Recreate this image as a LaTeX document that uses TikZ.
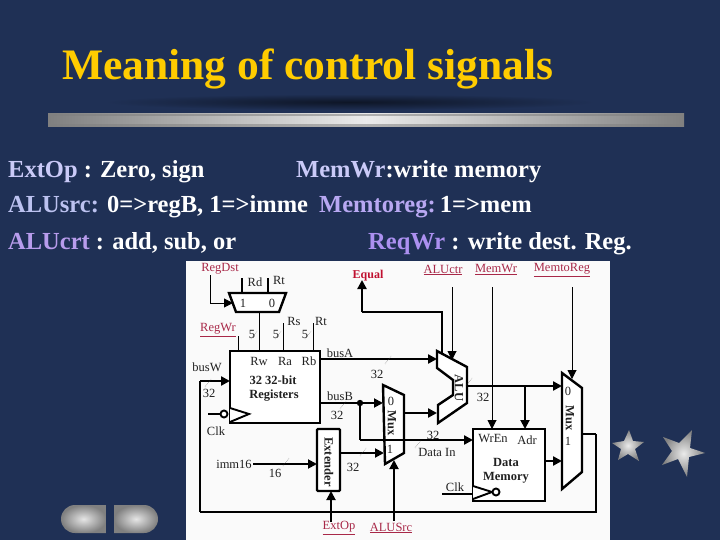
\documentclass[tikz,border=0pt]{standalone}
\usepackage{fontspec}
\setmainfont{Liberation Serif}
\usetikzlibrary{arrows.meta}
\definecolor{slidebg}{HTML}{1F3055}
\definecolor{ttl}{HTML}{FFCC00}
\definecolor{lavA}{HTML}{CACAF8}
\definecolor{lavB}{HTML}{BCC2F0}
\definecolor{lavC}{HTML}{B89CEC}
\definecolor{lavD}{HTML}{B8A8F2}
\definecolor{lavE}{HTML}{AC90F0}
\definecolor{ctrl}{HTML}{A82848}
\definecolor{eqred}{HTML}{C01030}
\definecolor{ink}{HTML}{202020}
\newcommand{\fs}[2]{\fontsize{#1}{#2}\selectfont}
\newcommand{\tk}[2]{\draw[tickmark] (#1-3,#2+4) -- (#1+3,#2-4);}
\tikzset{
 x=1pt,y=-1pt,
 bodytxt/.style={anchor=base west,inner sep=0pt,font=\fs{24.5}{26}\bfseries,text=white},
 lab/.style={inner sep=0pt,font=\fs{12.5}{13},text=ink},
 blab/.style={inner sep=0pt,font=\fs{12.5}{13}\bfseries,text=ink},
 clab/.style={inner sep=0pt,font=\fs{12.5}{13},text=ctrl},
 thinw/.style={line width=1.0pt,draw=black},
 medw/.style={line width=1.9pt,draw=black},
 thickw/.style={line width=2.8pt,draw=black},
 arr/.style={-{Triangle[length=9pt,width=9pt]}},
 muxshape/.style={line width=2.4pt,draw=black,fill=white,line join=miter},
 boxshape/.style={rectangle,draw=black,line width=2.2pt,fill=white,inner sep=0pt},
 tickmark/.style={line width=0.4pt,draw=black!70,densely dotted},
 metal/.style={inner color=white!90!black,outer color=black!50!white},
}
\begin{document}
\begin{tikzpicture}
\useasboundingbox (0,0) rectangle (720,540);
\fill[slidebg] (0,0) rectangle (720,540);
% title
\node[anchor=base west,inner sep=0pt,font=\fs{43.5}{46}\bfseries,text=ttl] (title) at (62,80) {Meaning of control signals};
% shadow and rule
\shade[inner color=black!55!slidebg,outer color=slidebg,draw=none] (350,102) ellipse [x radius=245,y radius=8];
\shade[left color=black!50!white,right color=black!50!white,middle color=white!92!black,draw=none] (48,114) rectangle (684,127);
\fill[black!50!white,opacity=0.55] (48,114) rectangle (684,116.5);
\fill[black!50!white,opacity=0.55] (48,124.5) rectangle (684,127);
% text lines
\node[bodytxt] (l1a) at (8,178) {\textcolor{lavA}{ExtOp} : Zero, sign};
\node[bodytxt] (l1b) at (296,178) {\textcolor{lavA}{MemWr}:write memory};
\node[bodytxt] (l2a) at (8,213) {\textcolor{lavB}{ALUsrc:} 0=>regB, 1=>imme};
\node[bodytxt] (l2b) at (319,213) {\textcolor{lavD}{Memtoreg:}\,1=>mem};
\node[bodytxt] (l3a) at (8,249) {\textcolor{lavC}{ALUcrt} : add, sub, or};
\node[bodytxt] (l3b) at (368,249) {\textcolor{lavE}{ReqWr} : write dest. Reg.};
% panel
\fill[white!98!black] (186,261) rectangle (610,540);
% stars
\shade[inner color=white!92!black,outer color=black!50!white] (629,430)--(633,441)--(644,442)--(635,449)--(639,461)--(628,454)--(618,460)--(621,449)--(612,443)--(624,441)--cycle;
\shade[inner color=white!92!black,outer color=black!50!white] (692,430)--(690,448)--(705,453)--(689,457)--(687,477)--(678,459)--(662,465)--(672,451)--(663,437)--(679,443)--cycle;
% pills
\shade[metal] (106,505) -- (75,505) arc[start angle=270,end angle=90,radius=14] -- (106,533) -- cycle;
\shade[metal] (114,505) -- (144,505) arc[start angle=270,end angle=450,radius=14] -- (114,533) -- cycle;

% ---- blocks
\node[boxshape,minimum width=90pt,minimum height=72pt] (reg) at (275,387) {};
\node[boxshape,line width=1.8pt,minimum width=72pt,minimum height=72pt] (dm) at (509,465) {};
\node[boxshape,rounded corners=1pt,minimum width=23pt,minimum height=62pt] (ext) at (328.5,460) {};
% register-dest mux
\draw[muxshape] (229,293)--(286,293)--(279,312)--(236,312)--cycle;
\coordinate (dstbot) at (259,312); \coordinate (dstin) at (233,303);
\coordinate (rdtop) at (242,278); \coordinate (rdbot) at (242,293);
\coordinate (rttop) at (268,278); \coordinate (rtbot) at (268,293);
% ALU
\draw[muxshape] (437,351)--(467,367)--(467,403)--(438,423)--(438,405)--(453,395)--(453,380)--(437,368)--cycle;
% ALUSrc mux
\draw[muxshape] (383,385)--(404,395)--(404,453)--(385,464)--cycle;
% MemtoReg mux
\draw[muxshape] (562,373)--(582,388)--(582,472)--(562,489)--cycle;
% clock triangles
\draw[medw,fill=white] (230,408)--(249,414)--(230,422);
\draw[medw,fill=white] (224,414) circle (3.5);
\draw[medw,fill=white] (473,486)--(492,492)--(473,499);
\draw[medw,fill=white] (496,492) circle (3.5);

% ---- labels
\node[clab] (regdst) at (220,269) {RegDst};
\node[lab] (rd) at (255,282) {Rd};
\node[lab] (rt1) at (279,280) {Rt};
\node[lab] (m1) at (243,303) {1};
\node[lab] (m0) at (272,303) {0};
\node[clab] (regwr) at (218,330) {\underline{RegWr}};
\node[lab] (rs) at (294,321) {Rs};
\node[lab] (rt2) at (321,321) {Rt};
\node[lab] at (252,334) {5};
\node[lab] at (276,334) {5};
\node[lab] at (305,334) {5};
\node[lab] (busa) at (340,353) {busA};
\node[lab] (busb) at (340,396) {busB};
\node[lab] (busw) at (207,367) {busW};
\node[lab] (rw) at (259,361) {Rw};
\node[lab] (ra) at (285,361) {Ra};
\node[lab] (rb) at (309,361) {Rb};
\node[blab] (r1) at (273,380) {32 32-bit};
\node[blab] (r2) at (274,396) {Registers};
\node[lab] (clk1) at (216,431) {Clk};
\node[lab] at (209,393) {32};
\node[lab] at (377,374) {32};
\node[lab] at (337,415) {32};
\node[lab] at (353,467) {32};
\node[lab] at (275,473) {16};
\node[lab] at (483,397) {32};
\node[lab] at (433,435) {32};
\node[lab] (imm) at (234,464) {imm16};
\node[lab] (datain) at (437,452) {Data In};
\node[font=\fs{12}{13}\bfseries,text=eqred,inner sep=0pt] (equal) at (368,276) {Equal};
\node[clab] (aluctr) at (443,270) {\underline{ALUctr}};
\node[clab] (memwr) at (496,270) {\underline{MemWr}};
\node[clab] (memtoreg) at (562,270) {\underline{MemtoReg}};
\node[clab] (extop) at (339,528) {\underline{ExtOp}};
\node[clab] (alusrc) at (391,528) {\underline{ALUSrc}};
\node[blab,rotate=-90] (alut) at (459,388) {ALU};
\node[blab,rotate=-90] (muxa) at (392,423) {Mux};
\node[lab] at (391,401) {0};
\node[lab] at (390,449) {1};
\node[blab,rotate=-90] (muxb) at (570,418) {Mux};
\node[lab] at (568,391) {0};
\node[lab] at (568,441) {1};
\node[blab,rotate=-90] (extt) at (329,462) {Extender};
\node[lab] (wren) at (493,438) {WrEn};
\node[lab] (adr) at (527,440) {Adr};
\node[blab] (d1) at (506,462) {Data};
\node[blab] (d2) at (506,478) {Memory};
\node[lab] (clk2) at (455,487) {Clk};

% ---- named connector ends
\coordinate (dstcorner) at (210,303);
\coordinate (dstfrom) at (210,275);
\coordinate (regw) at (259,351);
\coordinate (regwrbot) at (238,351); \coordinate (regwrtop) at (238,336);
\coordinate (rsbot) at (283,351); \coordinate (rstop) at (283,323);
\coordinate (rtbotb) at (313,351); \coordinate (rttopb) at (313,323);
\coordinate (busAout) at (320,359); \coordinate (aluA) at (437,359);
\coordinate (busBout) at (320,403); \coordinate (muxA0) at (383,403);
\coordinate (bdot) at (360,403); \coordinate (bdown) at (360,440); \coordinate (dmin) at (473,440);
\coordinate (muxAout) at (404,413); \coordinate (aluB) at (437,413);
\coordinate (extout) at (340,453); \coordinate (muxA1) at (384,453);
\coordinate (immfrom) at (253,464); \coordinate (extin) at (317,464);
\coordinate (extopfrom) at (331,522); \coordinate (extbot) at (331,491);
\coordinate (srcfrom) at (394,521); \coordinate (srcto) at (394,460);
\coordinate (eqtail) at (362,312); \coordinate (eqtip) at (362,280);
\coordinate (eqr) at (442,312); \coordinate (eqd) at (442,353);
\coordinate (ctrfrom) at (452,287); \coordinate (ctrto) at (452,360);
\coordinate (wrfrom) at (492,287); \coordinate (wrto) at (492,429);
\coordinate (tofrom) at (572,287); \coordinate (toto) at (572,379);
\coordinate (aluout) at (467,386); \coordinate (muxB0) at (562,386);
\coordinate (adrfrom) at (525,386); \coordinate (adrto) at (525,429);
\coordinate (dmout) at (545,461); \coordinate (muxB1) at (562,461);
\coordinate (fbA) at (582,434); \coordinate (fbB) at (596,434); \coordinate (fbC) at (596,512);
\coordinate (fbD) at (200,512); \coordinate (fbE) at (200,381); \coordinate (regin) at (230,381);
\coordinate (clk1a) at (208,414); \coordinate (clk1b) at (220.5,414);
\coordinate (clk2a) at (442,494); \coordinate (clk2b) at (473,494);

% ---- connectors
\draw[thinw,arr] (dstfrom) -- (dstcorner) -- (dstin);
\draw[medw] (rdtop) -- (rdbot);
\draw[medw] (rttop) -- (rtbot);
\draw[thinw] (dstbot) -- (regw);
\draw[thinw] (regwrtop) -- (regwrbot);
\draw[thinw] (rstop) -- (rsbot);
\draw[thinw] (rttopb) -- (rtbotb);
\draw[thickw,arr] (busAout) -- (aluA);
\draw[medw,arr] (busBout) -- (muxA0);
\fill (bdot) circle (3.2);
\draw[thickw] (bdot) -- (bdown);
\draw[thickw,arr] (bdown) -- (dmin);
\draw[thickw,arr] (muxAout) -- (aluB);
\draw[medw,arr] (extout) -- (muxA1);
\draw[medw,arr] (immfrom) -- (extin);
\draw[medw,arr] (extopfrom) -- (extbot);
\draw[medw,arr] (srcfrom) -- (srcto);
\draw[thickw,arr] (eqtail) -- (eqtip);
\draw[thickw,line join=miter] (eqtail) -- (eqr) -- (eqd);
\draw[thinw,arr] (ctrfrom) -- (ctrto);
\draw[thinw,arr] (wrfrom) -- (wrto);
\draw[thinw,arr] (tofrom) -- (toto);
\draw[thickw,arr] (aluout) -- (muxB0);
\draw[medw,arr] (adrfrom) -- (adrto);
\draw[thickw,arr] (dmout) -- (muxB1);
\draw[medw] (fbA) -- (fbB);
\draw[line width=1.5pt] (fbB) -- (fbC) -- (fbD);
\draw[thickw] (fbD) -- (fbE);
\draw[thickw,arr] (fbE) -- (regin);
\draw[medw] (clk1a) -- (clk1b);
\draw[medw] (clk2a) -- (clk2b);
% width ticks
\tk{254}{335}\tk{278}{335}\tk{308}{335}\tk{208}{383}\tk{388}{360}\tk{343}{405}\tk{363}{452}\tk{286}{462}\tk{469}{382}\tk{418}{444}
\end{tikzpicture}
\end{document}
